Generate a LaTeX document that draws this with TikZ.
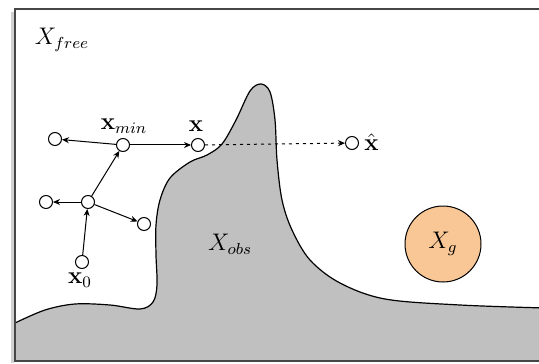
\documentclass[tikz,border=0pt]{standalone}
\usetikzlibrary{arrows.meta}
\definecolor{obsgray}{RGB}{192,192,192}
\definecolor{goalfill}{RGB}{249,199,150}
\definecolor{framecol}{RGB}{70,70,70}
\begin{document}
\begin{tikzpicture}[x=0.5pt,y=-0.5pt,
  font=\fontsize{11.5}{13}\selectfont,
  vert/.style={circle,draw,fill=white,line width=0.5pt,inner sep=0pt,minimum size=6.5pt},
  edge/.style={line width=0.5pt,-{Stealth[length=3.5pt,width=3pt]}},
  lbl/.style={inner sep=0pt}]
\useasboundingbox (0,0) rectangle (539,363);
\fill[white] (0,0) rectangle (539,363);
% shadow
\draw[black!18,line width=1.5pt] (12,12) -- (12,363);
% obstacle
\fill[obsgray] plot[smooth,tension=0.55] coordinates {(15,323) (45,310) (75,304) (110,305) (140,309) (153,302) (157,285) (156,255) (156,225) (160,200) (170,178) (190,162) (207,155) (222,144) (236,120) (250,91) (261,84) (270,92) (275,120) (277,160) (282,200) (292,230) (310,260) (340,283) (385,299) (460,305) (545,308)} -- (545,361) -- (15,361) -- cycle;
\draw[line width=0.6pt] plot[smooth,tension=0.55] coordinates {(15,323) (45,310) (75,304) (110,305) (140,309) (153,302) (157,285) (156,255) (156,225) (160,200) (170,178) (190,162) (207,155) (222,144) (236,120) (250,91) (261,84) (270,92) (275,120) (277,160) (282,200) (292,230) (310,260) (340,283) (385,299) (460,305) (545,308)};
% frame
\draw[framecol,line width=1.1pt] (15,9) rectangle (545,361);
% labels of regions
\node[lbl] (free) at (62,40) {$X_{free}$};
\node[lbl] (obs) at (230,244) {$X_{obs}$};
\node[circle,draw,fill=goalfill,line width=0.5pt,minimum size=38pt,inner sep=0pt] (goal) at (443,244) {$X_g$};
% tree
\node[vert] (xmin) at (123,145) {};
\node[vert] (l1) at (55,139) {};
\node[vert] (x) at (198,145) {};
\node[vert] (xh) at (352,143) {};
\node[vert] (m) at (88,202) {};
\node[vert] (l2) at (46,202) {};
\node[vert] (r) at (144,224) {};
\node[vert] (x0) at (82,262) {};
\node[lbl] (xminlbl) at (124,126) {$\mathbf{x}_{min}$};
\node[lbl] (xlbl) at (196,126) {$\mathbf{x}$};
\node[lbl,anchor=west] (xhlbl) at (364,142) {$\hat{\mathbf{x}}$};
\node[lbl] (x0lbl) at (80,280) {$\mathbf{x}_0$};
\draw[edge] (xmin) -- (l1);
\draw[edge] (xmin) -- (x);
\draw[edge] (m) -- (xmin);
\draw[edge] (m) -- (l2);
\draw[edge] (m) -- (r);
\draw[edge] (x0) -- (m);
\draw[line width=0.5pt,dash pattern=on 1.5pt off 2pt,-{Stealth[length=3.5pt,width=3pt]}] (x) -- (xh);
\end{tikzpicture}
\end{document}
